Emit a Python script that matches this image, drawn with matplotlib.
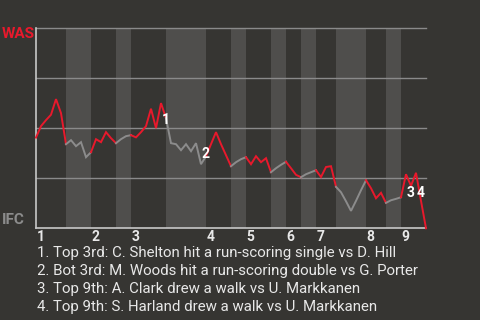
import matplotlib
matplotlib.use("Agg")
import matplotlib.pyplot as plt
from matplotlib.transforms import blended_transform_factory

# Washington win probability after each plate appearance (index 0 = first pitch)
was_win_prob = [
    0.453, 0.51, 0.54, 0.567, 0.645, 0.575, 0.42,          # top 1
    0.44, 0.41, 0.43, 0.355, 0.38,                          # bot 1
    0.445, 0.43, 0.48, 0.45, 0.425,                         # top 2
    0.445, 0.46, 0.465,                                     # bot 2
    0.454, 0.48, 0.51, 0.597, 0.50, 0.625, 0.55,            # top 3
    0.425, 0.42, 0.39, 0.42, 0.385, 0.425, 0.32, 0.36,      # bot 3
    0.42, 0.48, 0.42, 0.365, 0.31,                          # top 4
    0.33, 0.345, 0.355,                                     # bot 4
    0.32, 0.36, 0.33, 0.35, 0.28,                           # top 5
    0.30, 0.317, 0.332,                                     # bot 5
    0.30, 0.267, 0.255,                                     # top 6
    0.27, 0.28, 0.29,                                       # bot 6
    0.256, 0.306, 0.31, 0.207,                              # top 7
    0.18, 0.135, 0.087, 0.137, 0.19, 0.24,                  # bot 7
    0.20, 0.15, 0.177, 0.127,                               # top 8
    0.14, 0.147, 0.155,                                     # bot 8
    0.27, 0.212, 0.277, 0.137, 0.0,                         # top 9
]

# plate appearances in each half inning, top 1 through top 9
half_inning_pas = [6, 5, 5, 3, 7, 8, 5, 3, 5, 3, 3, 3, 4, 6, 4, 3, 5]
inning_labels = ["1", "2", "3", "4", "5", "6", "7", "8", "9"]

# key plays: (number, plate-appearance index)
key_plays = [("1", 26), ("2", 34), ("3", 75), ("4", 77)]
key_play_text = [
    "1. Top 3rd: C. Shelton hit a run-scoring single vs D. Hill",
    "2. Bot 3rd: M. Woods hit a run-scoring double vs G. Porter",
    "3. Top 9th: A. Clark drew a walk vs U. Markkanen",
    "4. Top 9th: S. Harland drew a walk vs U. Markkanen",
]
label_offsets = {"1": (0, -1.5), "2": (-0.5, 1.5), "3": (-0.5, -5), "4": (-0.5, 6)}

away_name, home_name = "WAS", "IFC"

BG = "#363532"
BAND = "#4f4e4c"
GRID = "#8a8a8a"
AXIS = "#c8c8c8"
RED = "#e8192c"
GRAY_LINE = "#8c8c8c"
TEXT = "#e8e8e8"

plt.rcParams["font.family"] = ["Roboto", "DejaVu Sans"]

fig = plt.figure(figsize=(4.8, 3.2), dpi=100, facecolor=BG)
ax = fig.add_axes([36 / 480, 1 - 228.3 / 320, 390 / 480, 200.3 / 320])
ax.set_facecolor(BG)

total = sum(half_inning_pas)
ax.set_xlim(0, total)
ax.set_ylim(0, 1)

# half-inning boundaries
bounds = [0]
for n in half_inning_pas:
    bounds.append(bounds[-1] + n)

# shade the bottom halves
for h in range(len(half_inning_pas)):
    if h % 2 == 1:
        ax.axvspan(bounds[h], bounds[h + 1], color=BAND, lw=0, zorder=0)

for yv in (0.25, 0.5, 0.75, 1.0):
    ax.axhline(yv, color=GRID, lw=1.0, zorder=1, clip_on=False)

# line: red while Washington bats, gray while the home side bats
for h in range(len(half_inning_pas)):
    s, e = bounds[h], bounds[h + 1]
    xs = list(range(s, e + 1))
    ys = was_win_prob[s:e + 1]
    ax.plot(xs, ys, color=RED if h % 2 == 0 else GRAY_LINE, lw=1.4,
            solid_joinstyle="miter", zorder=3, clip_on=False)

for num, idx in key_plays:
    ax.annotate(num, xy=(idx, was_win_prob[idx]), xytext=label_offsets[num],
                textcoords="offset points", ha="center", va="center",
                color="white", fontsize=10, fontweight="bold", zorder=5)

for side in ("top", "right"):
    ax.spines[side].set_visible(False)
for side in ("left", "bottom"):
    ax.spines[side].set_color(AXIS)
    ax.spines[side].set_linewidth(1.2)
ax.set_xticks([])
ax.set_yticks([])

# inning numbers at the start of each inning
trans = blended_transform_factory(ax.transData, ax.transAxes)
for i, lab in enumerate(inning_labels):
    ax.text(bounds[2 * i] + 0.15, -0.043, lab, transform=trans, ha="left",
            va="center", color=TEXT, fontsize=10, fontweight="bold")

fig.text(2 / 480, 1 - 33.5 / 320, away_name, color=RED, fontsize=11,
         fontweight="bold", ha="left", va="center")
fig.text(2 / 480, 1 - 220 / 320, home_name, color=GRAY_LINE, fontsize=11,
         fontweight="bold", ha="left", va="center")

for k, line in enumerate(key_play_text):
    fig.text(37 / 480, 1 - (253.3 + 17.8 * k) / 320, line, color=TEXT,
             fontsize=10.85, ha="left", va="center")

fig.savefig("out.png", dpi=100, facecolor=BG)
